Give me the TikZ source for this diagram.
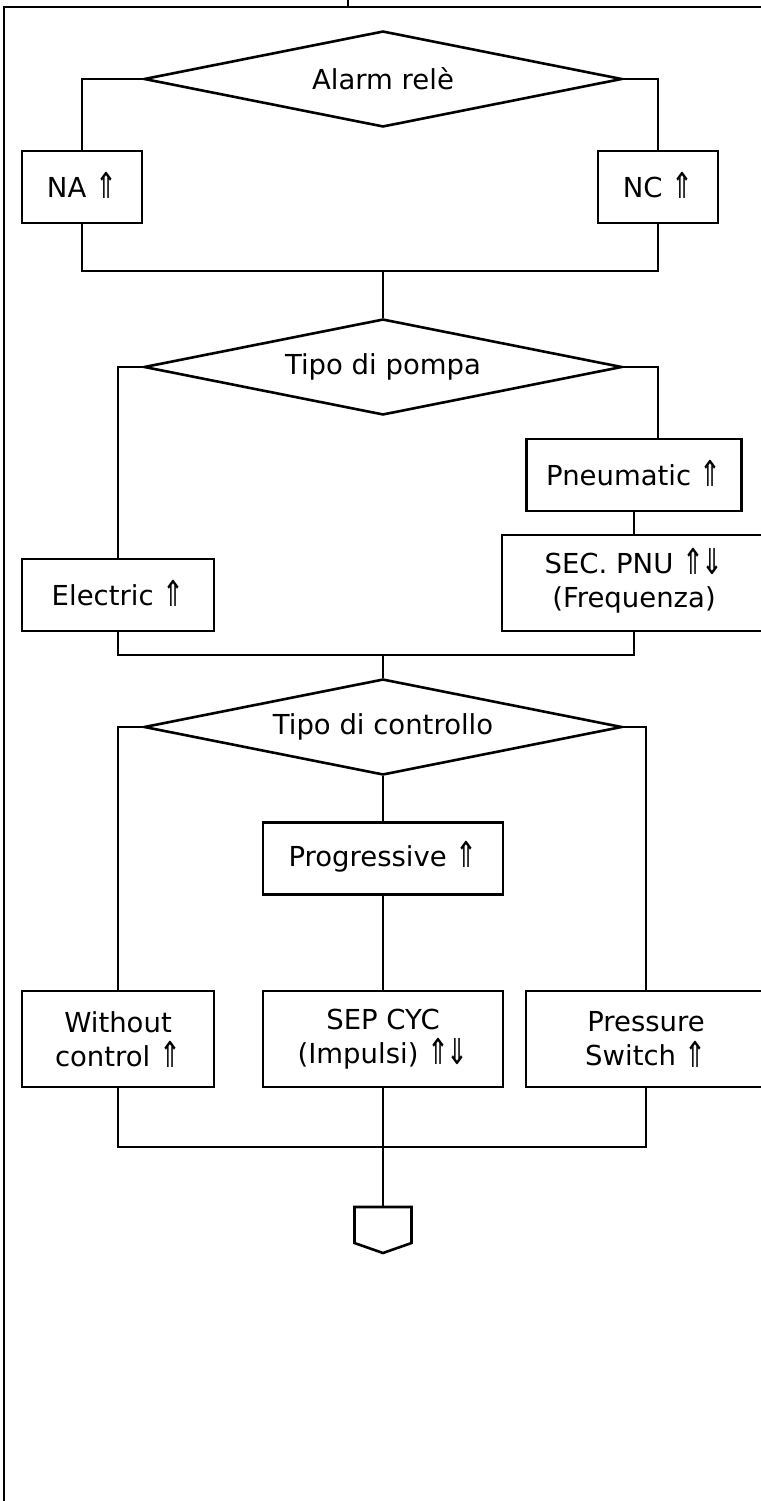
\documentclass[tikz,border=0pt]{standalone}
\usepackage{fontspec}
\setmainfont{DejaVu Sans}
\usetikzlibrary{shapes.geometric}

\newcommand{\upar}{\smash{\raisebox{-1.5pt}{\scalebox{0.95}[1.3]{⇑}}}}
\newcommand{\updown}{\smash{\raisebox{-1.5pt}{\scalebox{0.95}[1.3]{⇑\kern-0.1em⇓}}}}

\begin{document}
\begin{tikzpicture}[x=1pt, y=-1pt,
    every node/.style={font=\fontsize{27.5}{34}\selectfont},
    box/.style={draw, line width=2.4pt, align=center, inner sep=0pt, minimum height=72pt},
    tallbox/.style={box, minimum height=96pt},
    choice/.style={draw, diamond, aspect=5, line width=2.6pt, inner sep=0pt,
        minimum width=478pt, minimum height=96pt},
    link/.style={line width=2.6pt}]
    \useasboundingbox (0, 0) rectangle (760, 1501);
    % Outer frame (runs off the page)
    \draw[link] (4, 1510) -- (4, 7) -- (770, 7);
    \draw[link] (348, 0) -- (348, 7);

    % Alarm relay
    \node[choice] (alarm) at (383, 79) {Alarm relè};
    \node[box, minimum width=120pt] (na) at (82, 187) {NA \upar};
    \node[box, minimum width=120pt] (nc) at (658, 187) {NC \upar};
    \coordinate (j1) at (383, 271);
    \draw[link] (alarm.west) -| (na.north);
    \draw[link] (alarm.east) -| (nc.north);
    \draw[link] (na.south) |- (j1) -| (nc.south);

    % Pump type
    \node[choice] (pompa) at (383, 367) {Tipo di pompa};
    \node[box, minimum width=192pt] (elec) at (118, 595) {Electric \upar};
    \node[box, minimum width=215pt] (pneu) at (634, 475) {Pneumatic \upar};
    \node[tallbox, minimum width=264pt] (secpnu) at (634, 583) {SEC. PNU \updown\\(Frequenza)};
    \coordinate (pneutop) at (658, 439);
    \coordinate (j2) at (383, 655);
    \draw[link] (j1) -- (pompa.north);
    \draw[link] (pompa.west) -| (elec.north);
    \draw[link] (pompa.east) -| (pneutop);
    \draw[link] (pneu.south) -- (secpnu.north);
    \draw[link] (elec.south) |- (j2) -| (secpnu.south);

    % Control type
    \node[choice] (ctrl) at (383, 727) {Tipo di controllo};
    \node[box, minimum width=240pt] (prog) at (383, 858.5) {Progressive \upar};
    \node[tallbox, minimum width=192pt] (noctrl) at (118, 1039) {Without\\control \upar};
    \node[tallbox, minimum width=240pt] (sepcyc) at (383, 1039) {SEP CYC\\(Impulsi) \updown};
    \node[tallbox, minimum width=240pt] (press) at (646, 1039) {Pressure\\Switch \upar};
    \coordinate (j3) at (383, 1147);
    \draw[link] (j2) -- (ctrl.north);
    \draw[link] (ctrl.west) -| (noctrl.north);
    \draw[link] (ctrl.east) -| (press.north);
    \draw[link] (ctrl.south) -- (prog.north);
    \draw[link] (prog.south) -- (sepcyc.north);
    \draw[link] (noctrl.south) |- (j3) -| (press.south);
    \draw[link] (sepcyc.south) -- (j3);

    % Off-page connector
    \coordinate (stop) at (383, 1207);
    \draw[link] (j3) -- (stop);
    \draw[link] (stop) -- ++(28.5, 0) -- ++(0, 36) -- ++(-28.5, 10)
        -- ++(-28.5, -10) -- ++(0, -36) -- cycle;
\end{tikzpicture}
\end{document}
